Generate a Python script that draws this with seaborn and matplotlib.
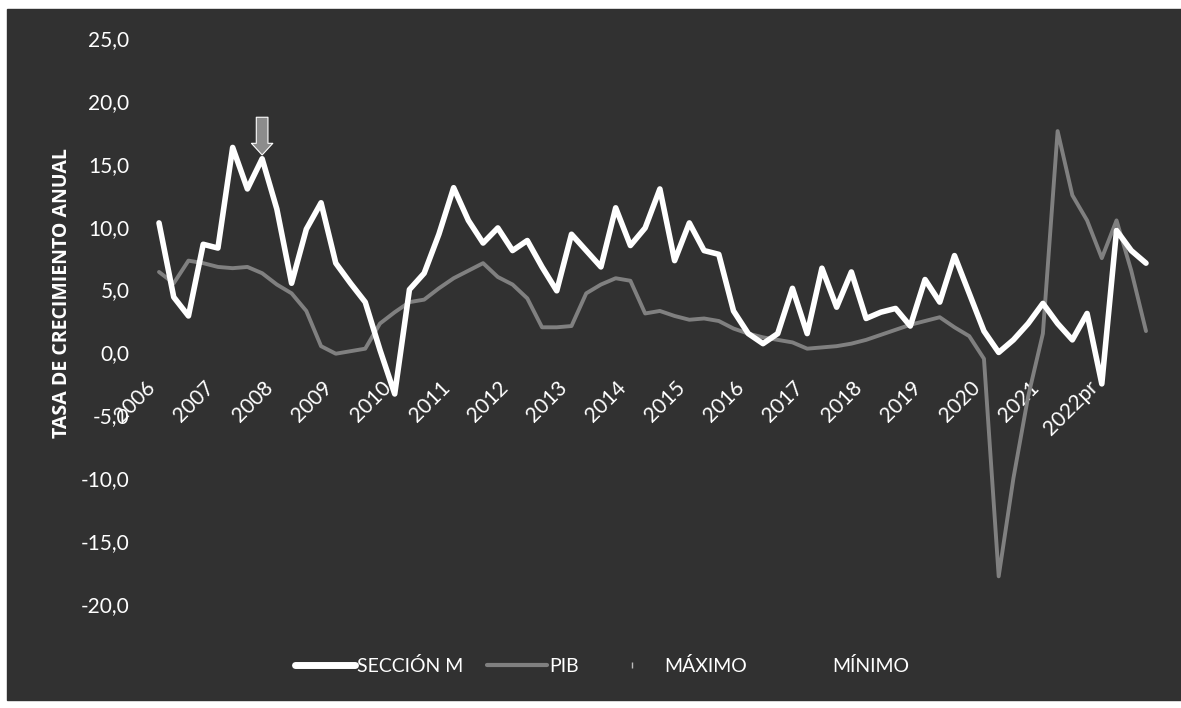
import matplotlib
matplotlib.use("Agg")
import matplotlib.pyplot as plt
from matplotlib.patches import Rectangle
from matplotlib.lines import Line2D
from matplotlib.ticker import FuncFormatter
import seaborn as sns
import pandas as pd
import numpy as np

# quarterly annual growth, 2006Q1 .. 2022Q4
years = ['2006', '2007', '2008', '2009', '2010', '2011', '2012', '2013', '2014',
         '2015', '2016', '2017', '2018', '2019', '2020', '2021', '2022pr']
seccion_m = [10.3, 4.4, 2.9, 8.6, 8.3, 16.3, 13.0, 15.4,
             11.4, 5.5, 9.8, 11.9, 7.1, 5.5, 4.0, 0.2,
             -3.3, 5.0, 6.3, 9.4, 13.1, 10.5, 8.7, 9.9,
             8.1, 8.9, 6.8, 4.9, 9.4, 8.1, 6.8, 11.5,
             8.5, 9.9, 13.0, 7.3, 10.3, 8.1, 7.8, 3.3,
             1.5, 0.7, 1.5, 5.1, 1.5, 6.7, 3.6, 6.4,
             2.7, 3.2, 3.5, 2.1, 5.8, 4.0, 7.7, 4.7,
             1.7, 0.0, 1.0, 2.3, 3.9, 2.3, 1.0, 3.1,
             -2.5, 9.7, 8.1, 7.1]
pib = [6.4, 5.5, 7.3, 7.1, 6.8, 6.7, 6.8, 6.3,
       5.4, 4.7, 3.3, 0.5, -0.1, 0.1, 0.3, 2.3,
       3.2, 4.0, 4.2, 5.1, 5.9, 6.5, 7.1, 6.0,
       5.4, 4.3, 2.0, 2.0, 2.1, 4.7, 5.4, 5.9,
       5.7, 3.1, 3.3, 2.9, 2.6, 2.7, 2.5, 1.9,
       1.5, 1.2, 1.0, 0.8, 0.3, 0.4, 0.5, 0.7,
       1.0, 1.4, 1.8, 2.2, 2.5, 2.8, 2.0, 1.3,
       -0.5, -17.8, -10.0, -3.5, 1.5, 17.6, 12.5, 10.5,
       7.5, 10.5, 6.5, 1.7]
arrow_quarter = 7

bg = '#313131'
sns.set_style('dark', {'axes.facecolor': bg, 'figure.facecolor': 'white'})
plt.rcParams['font.family'] = ['Lato', 'DejaVu Sans']

quarters = np.arange(len(seccion_m))
df = pd.DataFrame({'t': quarters, 'SECCIÓN M': seccion_m, 'PIB': pib})

fig = plt.figure(figsize=(11.81, 7.08), dpi=100)
fig.patches.append(Rectangle((0.006, 0.012), 0.994, 0.975, transform=fig.transFigure,
                             color=bg, zorder=-1))
ax = fig.add_axes([0.1284, 0.1469, 0.8482, 0.7994])

sns.lineplot(data=df, x='t', y='PIB', ax=ax, color='#808080', lw=2.8)
sns.lineplot(data=df, x='t', y='SECCIÓN M', ax=ax, color='white', lw=4)

ax.set_xlim(-0.5, len(seccion_m) - 0.5)
ax.set_ylim(-20, 25)
# x axis crosses at 0 (set before the tick labels, it resets them)
ax.spines['bottom'].set_position(('data', 0))
for s in ax.spines.values():
    s.set_visible(False)
ax.grid(False)
ax.set_yticks(np.arange(-20, 26, 5))
ax.yaxis.set_major_formatter(FuncFormatter(lambda v, p: f'{v:.1f}'.replace('.', ',')))
ax.set_xticks(quarters[::4])
ax.set_xticklabels(years)
ax.tick_params(axis='x', length=0, pad=18, colors='white', labelsize=15)
ax.tick_params(axis='y', length=0, pad=16, colors='white', labelsize=15)
plt.setp(ax.get_xticklabels(), rotation=45, ha='right', va='top')
ax.set_xlabel('')
ax.set_ylabel('TASA DE CRECIMIENTO ANUAL', fontsize=14, fontweight='bold', color='white',
              family=['Open Sans', 'DejaVu Sans'])
ax.yaxis.set_label_coords(-0.08, 0.55)

# little arrow over the 2008 peak
ax.annotate('', xy=(arrow_quarter, seccion_m[arrow_quarter] + 0.3),
            xytext=(arrow_quarter, seccion_m[arrow_quarter] + 3.3),
            arrowprops=dict(arrowstyle='simple,head_length=0.6,head_width=1.1,tail_width=0.6',
                            fc='#8c8c8c', ec='white', lw=0.8, shrinkA=0, shrinkB=0,
                            mutation_scale=14))

handles = [Line2D([], [], color='white', lw=5),
           Line2D([], [], color='#808080', lw=3),
           Line2D([], [], ls='none', marker='|', color='#bbbbbb', ms=5),
           Line2D([], [], color=bg, lw=2)]
fig.legend(handles, ['SECCIÓN M', 'PIB', 'MÁXIMO', 'MÍNIMO'], loc='center',
           bbox_to_anchor=(0.51, 0.059), ncol=4, frameon=False, fontsize=14,
           labelcolor='white', handlelength=3.1, handletextpad=0.1, columnspacing=1.2)

fig.savefig('out.png', dpi=100)
